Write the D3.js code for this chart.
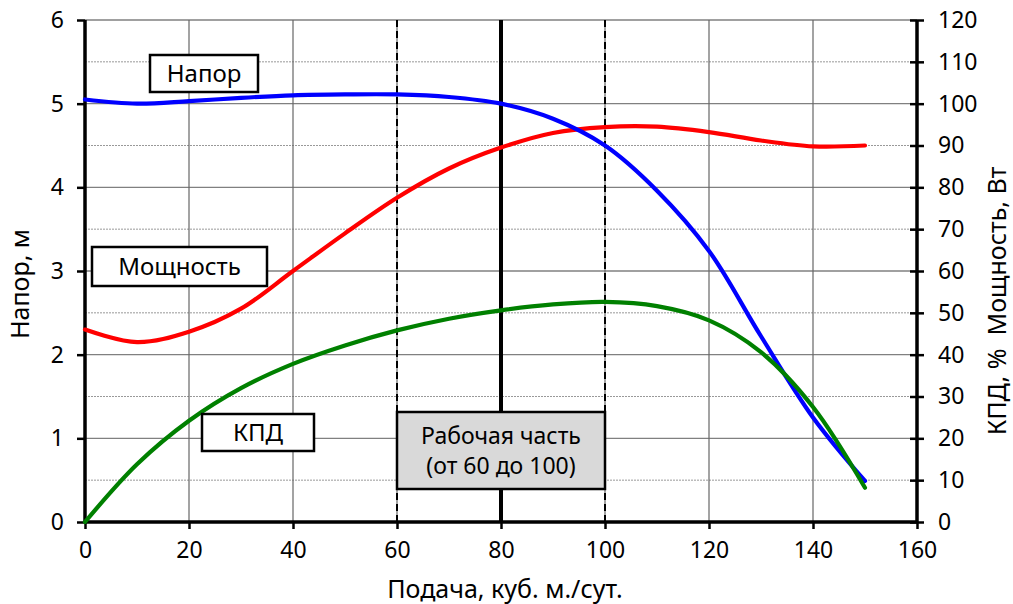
<!DOCTYPE html>
<html><head><meta charset="utf-8">
<script src="https://cdn.jsdelivr.net/npm/d3@7"></script>
<style>
body{margin:0;background:#fff;}
text{font-family:"Noto Sans","Open Sans",sans-serif;fill:#000;}
</style></head>
<body><svg id="c" width="1013" height="604"></svg>
<script>
const flow = [0,10,20,30,40,50,60,70,80,90,100,110,120,130,140,150];
const head = [5.05,5.0,5.03,5.07,5.1,5.11,5.11,5.08,5.0,4.82,4.5,3.96,3.24,2.22,1.25,0.49];
const power = [46,43,45.5,51,60,69,77.5,84.5,89.5,93,94.4,94.5,93.2,91.2,89.8,90];
const eff = [0,13.8,24.2,32,37.8,42.2,45.8,48.6,50.6,52,52.6,51.6,48.2,40.6,27.5,8.2];
const xTicks = [0,20,40,60,80,100,120,140,160];
const leftTicks = [0,1,2,3,4,5,6];
const rightTicks = [0,10,20,30,40,50,60,70,80,90,100,110,120];
const workRange = [60,80,100];

const svg = d3.select("#c");
const L=85,R=917,T=20,B=522;
const x = d3.scaleLinear().domain([0,160]).range([L,R]);
const yL = d3.scaleLinear().domain([0,6]).range([B,T]);
const yR = d3.scaleLinear().domain([0,120]).range([B,T]);

// gridlines
const g = svg.append("g");
d3.range(0.5,6,1).forEach(v=>g.append("line").attr("x1",L).attr("x2",R).attr("y1",yL(v)).attr("y2",yL(v)).attr("stroke","#999").attr("stroke-width",1).attr("stroke-dasharray","2,1"));
leftTicks.filter(v=>v>0).forEach(v=>g.append("line").attr("x1",L).attr("x2",R).attr("y1",yL(v)).attr("y2",yL(v)).attr("stroke","#808080").attr("stroke-width",1.3));
xTicks.filter(v=>v>0&&v<160).forEach(v=>g.append("line").attr("x1",x(v)).attr("x2",x(v)).attr("y1",T).attr("y2",B).attr("stroke","#666").attr("stroke-width",1.2));

// working region lines
[workRange[0],workRange[2]].forEach(v=>svg.append("line").attr("x1",x(v)).attr("x2",x(v)).attr("y1",T).attr("y2",B).attr("stroke","#000").attr("stroke-width",2).attr("stroke-dasharray","7,4"));
svg.append("line").attr("x1",x(workRange[1])).attr("x2",x(workRange[1])).attr("y1",T).attr("y2",B).attr("stroke","#000").attr("stroke-width",4);

// axes
const fs = "23px";
const axB = svg.append("g").attr("transform",`translate(0,${B})`).call(d3.axisBottom(x).tickValues(xTicks).tickFormat(d3.format("d")).tickSize(7).tickPadding(13));
const axLf = svg.append("g").attr("transform",`translate(${L},0)`).call(d3.axisLeft(yL).tickValues(leftTicks).tickFormat(d3.format("d")).tickSize(8).tickPadding(13));
const axRt = svg.append("g").attr("transform",`translate(${R},0)`).call(d3.axisRight(yR).tickValues(rightTicks).tickFormat(d3.format("d")).tickSize(7).tickPadding(14));
axRt.selectAll(".tick line").attr("x1",-7).attr("x2",7);
[axB,axLf,axRt].forEach(a=>{
  a.select(".domain").attr("stroke","#000").attr("stroke-width",3.5);
  a.selectAll(".tick line").attr("stroke","#000").attr("stroke-width",2.5);
  a.selectAll(".tick text").style("font-size",fs).style("font-family",'"Noto Sans","Open Sans",sans-serif').attr("fill","#000");
});
axB.selectAll(".tick text").attr("dy","0.71em");
axB.select(".domain").attr("d",`M${L},0H${R}`);
axLf.select(".domain").attr("d",`M0,${B}V${T}`);
axRt.select(".domain").attr("d",`M0,${B}V${T}`);

// curves
const mk = (ys,sc)=>d3.line().x((d,i)=>x(flow[i])).y(d=>sc(d)).curve(d3.curveCatmullRom.alpha(0.5))(ys);
svg.append("path").attr("d",mk(power,yR)).attr("fill","none").attr("stroke","#ff0000").attr("stroke-width",4.2).attr("stroke-linecap","round");
svg.append("path").attr("d",mk(head,yL)).attr("fill","none").attr("stroke","#0000ff").attr("stroke-width",4.2).attr("stroke-linecap","round");
svg.append("path").attr("d",mk(eff,yR)).attr("fill","none").attr("stroke","#008000").attr("stroke-width",4.2).attr("stroke-linecap","round");

// labels
function box(x0,y0,x1,y1,lines,fill,size,lh){
  svg.append("rect").attr("x",x0).attr("y",y0).attr("width",x1-x0).attr("height",y1-y0).attr("fill",fill).attr("stroke","#000").attr("stroke-width",2.5);
  const cx=(x0+x1)/2, cy=(y0+y1)/2;
  lines.forEach((t,i)=>svg.append("text").attr("x",cx).attr("y",cy+(i-(lines.length-1)/2)*lh).attr("dy","0.35em").attr("text-anchor","middle").style("font-size",size).text(t));
}
box(150,55,258,92,["Напор"],"#fff","24px",0);
box(92,247,267,286,["Мощность"],"#fff","24px",0);
box(202,414,314,451,["КПД"],"#fff","24px",0);
box(x(workRange[0]),412,x(workRange[2]),489,["Рабочая часть","(от 60 до 100)"],"#d9d9d9","23px",30);

// axis titles
svg.append("text").attr("x",505).attr("y",598).attr("text-anchor","middle").style("font-size","25px").text("Подача, куб. м./сут.");
svg.append("text").attr("transform",`translate(29,284) rotate(-90)`).attr("text-anchor","middle").style("font-size","25px").text("Напор, м");
svg.append("text").attr("transform",`translate(1006,301) rotate(-90)`).attr("text-anchor","middle").attr("xml:space","preserve").style("white-space","pre").style("font-size","25px").text("КПД, %\u00a0\u00a0Мощность, Вт");
</script></body></html>
